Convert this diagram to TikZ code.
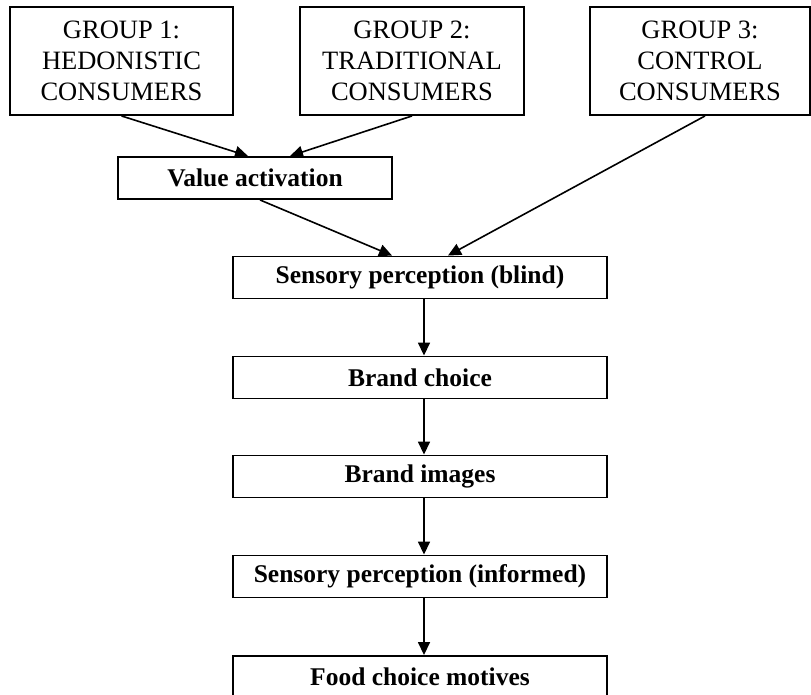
\documentclass[tikz,border=0pt]{standalone}
\usepackage{fontspec}
\setmainfont{Liberation Serif}
\usetikzlibrary{arrows.meta}
\begin{document}
\begin{tikzpicture}[x=1pt,y=-1pt,
  groupbox/.style={draw, line width=1.9pt, rectangle, inner sep=0pt,
    minimum height=108pt, align=center,
    font=\fontsize{26.5}{31}\selectfont},
  stagebox/.style={draw, line width=1.9pt, rectangle, inner sep=0pt,
    minimum width=374pt, minimum height=42pt,
    font=\fontsize{25.5}{30}\selectfont\bfseries},
  flow/.style={line width=1.6pt, -{Triangle[length=13pt,width=12pt]}}]
  \useasboundingbox (0,0) rectangle (811,695);

  % participant groups
  \node[groupbox, minimum width=223pt] (g1) at (121.5,61)
    {GROUP 1:\\HEDONISTIC\\CONSUMERS};
  \node[groupbox, minimum width=224pt] (g2) at (412,61)
    {GROUP 2:\\TRADITIONAL\\CONSUMERS};
  \node[groupbox, minimum width=220pt] (g3) at (700,61)
    {GROUP 3:\\CONTROL\\CONSUMERS};

  % experimental stages
  \node[stagebox, minimum width=274pt] (va) at (255,178) {Value activation};
  \node[stagebox] (sb) at (420,277.5) {Sensory perception (blind)};
  \node[stagebox] (bc) at (420,377.5) {Brand choice};
  \node[stagebox] (bi) at (420,476.5) {Brand images};
  \node[stagebox] (si) at (420,576.5) {Sensory perception (informed)};
  \node[stagebox] (fc) at (420,677) {Food choice motives};

  % connectors
  \draw[flow] (g1.south) -- ([xshift=-7pt]va.north);
  \draw[flow] (g2.south) -- ([xshift=35pt]va.north);
  \draw[flow] ([xshift=5pt]va.south) -- ([xshift=-28pt]sb.north);
  \draw[flow] ([xshift=5pt]g3.south) -- ([xshift=28pt]sb.north);
  \draw[flow] ([xshift=4pt]sb.south) -- ([xshift=4pt]bc.north);
  \draw[flow] ([xshift=4pt]bc.south) -- ([xshift=4pt]bi.north);
  \draw[flow] ([xshift=4pt]bi.south) -- ([xshift=4pt]si.north);
  \draw[flow] ([xshift=4pt]si.south) -- ([xshift=4pt]fc.north);
\end{tikzpicture}
\end{document}
